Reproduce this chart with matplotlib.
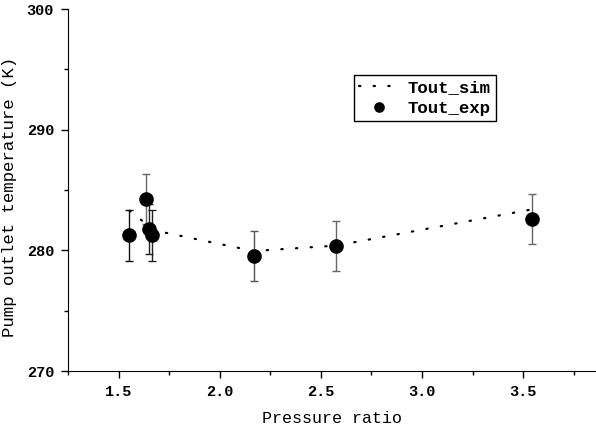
import matplotlib
matplotlib.use("Agg")
import matplotlib.pyplot as plt
from matplotlib.ticker import MultipleLocator

pressure_ratio = [1.554, 1.636, 1.652, 1.665, 2.168, 2.576, 3.543]
tout_exp = [281.24, 284.28, 281.8, 281.24, 279.53, 280.36, 282.57]
tout_err = [2.1, 2.07, 2.07, 2.1, 2.07, 2.07, 2.07]
tout_sim = [283.3, 282.2, 281.9, 281.7, 279.95, 280.4, 283.4]
err_colors = ["#111111", "#666666", "#222222", "#222222", "#555555", "#666666", "#666666"]

plt.rcParams['font.family'] = ['Liberation Mono', 'DejaVu Sans Mono']

fig = plt.figure(figsize=(5.96, 4.34), dpi=100)
ax = fig.add_axes([0.114, 0.145, 0.886, 0.834])

ax.plot(pressure_ratio, tout_sim, linestyle=(0, (0.6, 6.0)), color='black',
        linewidth=1.6, dash_capstyle='round', label='Tout_sim', zorder=2)
for x, y, e, c in zip(pressure_ratio, tout_exp, tout_err, err_colors):
    ax.errorbar([x], [y], yerr=[e], fmt='none', ecolor=c, elinewidth=1.0,
                capsize=3, capthick=1.0, zorder=3)
ax.plot(pressure_ratio, tout_exp, linestyle='none', marker='o', markersize=9.5,
        color='black', label='Tout_exp', zorder=4)

ax.set_xlim(1.25, 3.86)
ax.set_ylim(270, 300)
ax.xaxis.set_major_locator(MultipleLocator(0.5))
ax.xaxis.set_minor_locator(MultipleLocator(0.25))
ax.yaxis.set_major_locator(MultipleLocator(10))
ax.yaxis.set_minor_locator(MultipleLocator(5))
ax.spines['top'].set_visible(False)
ax.spines['right'].set_visible(False)
ax.tick_params(which='major', direction='out', length=5, width=1, pad=5)
ax.tick_params(which='minor', direction='out', length=3, width=1)
ax.set_xticklabels([f"{v:.1f}" for v in ax.get_xticks()])
for lab in ax.get_xticklabels() + ax.get_yticklabels():
    lab.set_fontweight('bold')
    lab.set_fontsize(11)

ax.set_xlabel('Pressure ratio', fontsize=12, labelpad=9)
ax.set_ylabel('Pump outlet temperature (K)', fontsize=12.5)
ax.yaxis.set_label_coords(-0.096, 0.48)

leg = ax.legend(loc='upper left', bbox_to_anchor=(0.542, 0.818), frameon=True,
                fancybox=False, edgecolor='black', framealpha=1, borderaxespad=0,
                prop={'size': 12.5, 'weight': 'bold'}, handlelength=2.3,
                borderpad=0.3, labelspacing=0.3, handletextpad=0.5, markerscale=0.7)
leg.get_frame().set_linewidth(1.0)

fig.savefig('out.png', dpi=100)
